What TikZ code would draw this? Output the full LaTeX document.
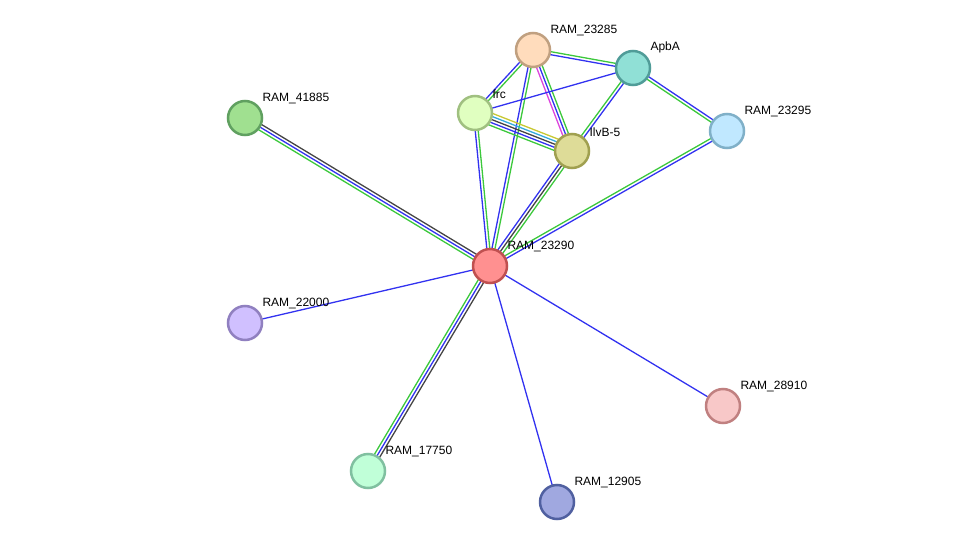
\documentclass[tikz,border=0pt]{standalone}
\usepackage{xcolor}
\usepackage{fontspec}
\setmainfont{Liberation Sans}
\usepackage{tikz}
\usetikzlibrary{positioning, calc, backgrounds}

\definecolor{egreen}{HTML}{3CC83C}
\definecolor{eblue}{HTML}{3232F0}
\definecolor{egray}{HTML}{444444}
\definecolor{emag}{HTML}{DD44DD}
\definecolor{ecyan}{HTML}{33AADD}
\definecolor{eyel}{HTML}{C8C832}

% one coloured line per evidence channel, side by side
\newcommand{\stredge}[3]{%
  \foreach \c/\o in {#3}{%
    \draw[edge, draw=\c] ($(#1.center)!\o*1.5pt!90:(#2.center)$) -- ($(#2.center)!\o*1.5pt!-90:(#1.center)$);
  }}

\begin{document}
\begin{tikzpicture}[
    x=1pt, y=-1pt,
    every node/.style={font=\fontsize{12}{14}\selectfont},
    prot/.style={circle, draw, line width=2.5pt, minimum size=34pt, inner sep=0pt},
    lbl/.style={inner sep=0pt, label distance=2pt, xshift=3pt},
    edge/.style={line width=1.3pt}
]
\useasboundingbox (0,0) rectangle (976,548);

\node[prot, fill={rgb,255:red,255;green,144;blue,144}, draw={rgb,255:red,192;green,80;blue,80}, label={[lbl]45:RAM\_23290}] (r23290) at (490,266) {};
\node[prot, fill={rgb,255:red,255;green,220;blue,188}, draw={rgb,255:red,192;green,160;blue,128}, label={[lbl]45:RAM\_23285}] (r23285) at (533,50) {};
\node[prot, fill={rgb,255:red,144;green,224;blue,214}, draw={rgb,255:red,80;green,156;blue,152}, label={[lbl]45:ApbA}] (apba) at (633,68) {};
\node[prot, fill={rgb,255:red,224;green,255;blue,192}, draw={rgb,255:red,160;green,192;blue,128}, label={[lbl]45:frc}] (frc) at (475,113) {};
\node[prot, fill={rgb,255:red,222;green,220;blue,152}, draw={rgb,255:red,160;green,160;blue,80}, label={[lbl]45:IlvB-5}] (ilvb) at (572,151) {};
\node[prot, fill={rgb,255:red,192;green,232;blue,255}, draw={rgb,255:red,128;green,176;blue,200}, label={[lbl]45:RAM\_23295}] (r23295) at (727,131) {};
\node[prot, fill={rgb,255:red,160;green,224;blue,144}, draw={rgb,255:red,96;green,160;blue,96}, label={[lbl]45:RAM\_41885}] (r41885) at (245,118) {};
\node[prot, fill={rgb,255:red,208;green,192;blue,255}, draw={rgb,255:red,144;green,128;blue,192}, label={[lbl]45:RAM\_22000}] (r22000) at (245,323) {};
\node[prot, fill={rgb,255:red,248;green,200;blue,200}, draw={rgb,255:red,192;green,128;blue,128}, label={[lbl]45:RAM\_28910}] (r28910) at (723,406) {};
\node[prot, fill={rgb,255:red,192;green,255;blue,216}, draw={rgb,255:red,128;green,192;blue,160}, label={[lbl]45:RAM\_17750}] (r17750) at (368,471) {};
\node[prot, fill={rgb,255:red,160;green,168;blue,224}, draw={rgb,255:red,80;green,96;blue,160}, label={[lbl]45:RAM\_12905}] (r12905) at (557,502) {};

\begin{scope}[on background layer]
\stredge{r41885}{r23290}{egray/2, eblue/0, egreen/-2}
\stredge{r23290}{r22000}{eblue/0}
\stredge{r23290}{r17750}{egreen/-2, eblue/0, egray/2}
\stredge{r23290}{r12905}{eblue/0}
\stredge{r23290}{r28910}{eblue/0}
\stredge{r23290}{r23295}{egreen/1, eblue/-1}
\stredge{r23290}{ilvb}{egreen/-2, egray/0, eblue/2}
\stredge{r23290}{frc}{eblue/1, egreen/-1}
\stredge{r23290}{r23285}{eblue/1, egreen/-1}
\stredge{ilvb}{apba}{egreen/1, eblue/-1}
\stredge{r23285}{apba}{egreen/1, eblue/-1}
\stredge{r23285}{frc}{egreen/1, eblue/-1}
\stredge{r23285}{ilvb}{egreen/2, eblue/0, emag/-2}
\stredge{frc}{apba}{eblue/0}
\stredge{frc}{ilvb}{eyel/4, ecyan/2, egray/0, eblue/-2, egreen/-4}
\stredge{apba}{r23295}{eblue/1, egreen/-1}
\end{scope}
\end{tikzpicture}
\end{document}
